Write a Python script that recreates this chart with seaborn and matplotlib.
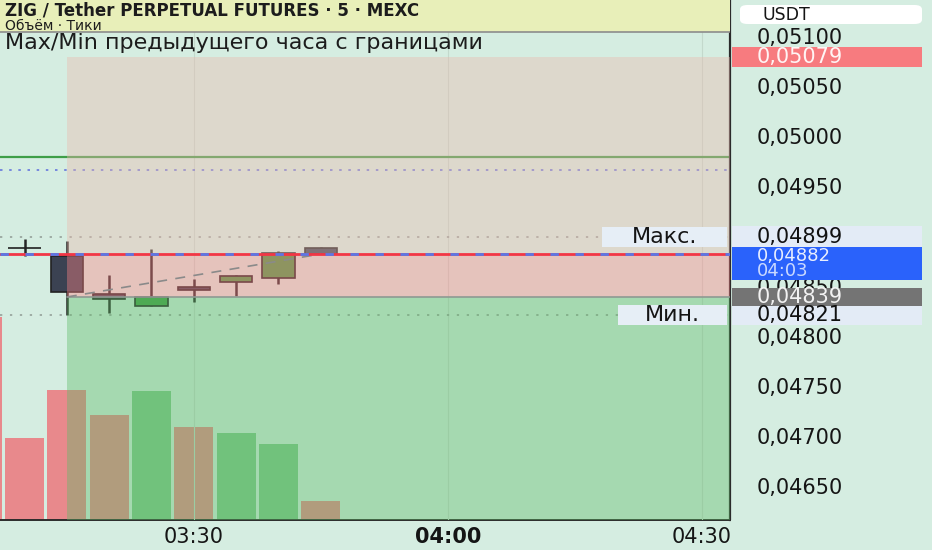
import numpy as np
import pandas as pd
import seaborn as sns
import matplotlib as mpl
mpl.use("Agg")
import matplotlib.pyplot as plt
from matplotlib.patches import Rectangle, FancyBboxPatch
from matplotlib import transforms
from matplotlib.ticker import FuncFormatter


# candles (5 min), index 0 = 03:10
times = ["03:10", "03:15", "03:20", "03:25", "03:30", "03:35", "03:40", "03:45"]
opens = [0.04888, 0.04880, 0.04842, 0.04830, 0.04849, 0.04854, 0.04858, 0.04888]
highs = [0.04897, 0.04895, 0.04861, 0.04887, 0.04857, 0.04861, 0.04885, 0.04889]
lows = [0.04880, 0.04821, 0.04823, 0.04830, 0.04834, 0.04840, 0.04852, 0.04882]
closes = [0.04888, 0.04844, 0.04837, 0.04839, 0.04846, 0.04860, 0.04883, 0.04882]

# volume bars (one more bar on the left edge, 03:05)
vol_idx = [-1, 0, 1, 2, 3, 4, 5, 6, 7]
volumes = [2030, 820, 1300, 1050, 1290, 930, 870, 760, 190]
vol_dir = ["down", "down", "down", "down", "up", "down", "up", "up", "down"]

# levels
prev_max = 0.04899
prev_min = 0.04821
last_price = 0.04882
box_top = 0.05079
box_mid = 0.04839
green_level = 0.04979
blue_level = 0.04966

price_ticks = [0.04650, 0.04700, 0.04750, 0.04800, 0.04850, 0.04950, 0.05000, 0.05050, 0.05100]
time_ticks = [4, 10, 16]
time_labels = ["03:30", "04:00", "04:30"]

bg = "#d5ede1"
sns.set_theme(style="white")
plt.rcParams['font.family'] = ['DejaVu Sans']

fig = plt.figure(figsize=(9.32, 5.5), dpi=100, facecolor=bg)
ax_vol = fig.add_axes([0, 30 / 550, 730 / 932, 520 / 550])
ax_vol.set_facecolor(bg)
ax = ax_vol.twinx()

# volume
vdf = pd.DataFrame({"i": vol_idx, "v": volumes, "d": vol_dir})
sns.barplot(data=vdf, x="i", y="v", hue="d", native_scale=True, width=0.92,
            palette={"up": "#7ec78a", "down": "#e8898c"}, saturation=1,
            errorbar=None, legend=False, dodge=False, linewidth=0, ax=ax_vol)
ax_vol.set_ylim(0, 5200)
ax_vol.set_yticks([])
ax_vol.set_xlabel("")
ax_vol.set_ylabel("")

xmin, xmax = -0.579, 16.67
ymin, ymax = 0.04616, 0.05136
ax.set_ylim(ymin, ymax)
ax_vol.set_xlim(xmin, xmax)

# faint grid
for t in time_ticks:
    ax.axvline(t, color="#c3d9cc", lw=0.8, zorder=0.5)

# horizontal lines under the boxes
ax.axhline(green_level, color="#3e9e48", lw=1.6, zorder=1)
ax.axhline(blue_level, color="#6677dd", lw=1.2, ls=(0, (1.5, 4)), zorder=1)
ax.axhline(prev_max, color="#8f9a94", lw=1.1, ls=(0, (1.5, 5)), zorder=1)
ax.axhline(prev_min, color="#8f9a94", lw=1.1, ls=(0, (1.5, 5)), zorder=1)

# candles
x = np.arange(len(times))
up = [c > o for o, c in zip(opens, closes)]
col = ["#43a047" if u else "#3b4252" for u in up]
ax.vlines(x, lows, highs, colors="#262626", lw=1.8, zorder=2)
bottoms = [min(o, c) for o, c in zip(opens, closes)]
heights = [abs(c - o) for o, c in zip(opens, closes)]
ax.bar(x, heights, bottom=bottoms, width=0.76, color=col, edgecolor="#222222",
       linewidth=1.2, zorder=3)

# previous hour boxes (drawn over candles and volume)
a = 0.4
ax.add_patch(Rectangle((1, last_price), 20, box_top - last_price, color="#ebb9ae", alpha=a, lw=0, zorder=4))
ax.add_patch(Rectangle((1, box_mid), 20, last_price - box_mid, color="#ff8486", alpha=a, lw=0, zorder=4))
ax.add_patch(Rectangle((1, ymin - 0.001), 20, box_mid - ymin + 0.001, color="#5fbb68", alpha=a, lw=0, zorder=4))
ax.plot([1, 20], [box_mid, box_mid], color="#8e9a92", lw=1.2, zorder=5)
ax.plot([1, 7], [box_mid, last_price], color="#8a8a8a", lw=1.2, ls=(0, (6, 5)), zorder=5)

# last price line
ax.axhline(last_price, color="#f23645", lw=2, zorder=6)
ax.axhline(last_price, color="#5a78e6", lw=2, ls=(0, (3, 6)), zorder=7)

# header
ax.add_patch(Rectangle((0, 1 - 32 / 520), 1, 32 / 520, transform=ax.transAxes,
                       color="#e8efb9", lw=0, zorder=8))
ax.plot([0, 1], [1 - 32 / 520, 1 - 32 / 520], transform=ax.transAxes, color="#8c8c8c", lw=1.2, zorder=9)
ax.text(5 / 730, 1 - 10.5 / 520, "ZIG / Tether PERPETUAL FUTURES · 5 · MEXC", transform=ax.transAxes,
        fontsize=12, fontweight="bold", color="#1c1c1c", va="center", ha="left", zorder=10)
ax.text(5 / 730, 1 - 25.5 / 520, "Объём · Тики", transform=ax.transAxes,
        fontsize=10, color="#1c1c1c", va="center", ha="left", zorder=10)
ax.text(5 / 730, 1 - 43 / 520, "Max/Min предыдущего часа с границами", transform=ax.transAxes,
        fontsize=16, color="#1c1c1c", va="center", ha="left", zorder=10)

# Макс. / Мин. tags
tagt = transforms.blended_transform_factory(ax.transAxes, ax.transData)
for lbl, lvl, x0 in [("Макс.", prev_max, 602), ("Мин.", prev_min, 618)]:
    ax.add_patch(Rectangle((x0 / 730, lvl - 0.0001), (727 - x0) / 730, 0.0002,
                           transform=tagt, color="#e6eef6", lw=0, zorder=10))
    ax.text((x0 + 727) / 2 / 730, lvl, lbl, transform=tagt,
            fontsize=16, color="#151515", ha="center", va="center", zorder=11)

# price axis
ax.set_yticks(price_ticks)
ax.yaxis.set_major_formatter(FuncFormatter(lambda v, p: f"{v:.5f}".replace(".", ",")))
ax.tick_params(axis="y", length=0, pad=19, labelsize=15, labelcolor="#151515")

for s in ["left", "top", "bottom"]:
    ax.spines[s].set_visible(False)
ax_vol.spines["left"].set_visible(False)
ax_vol.spines["top"].set_visible(False)
ax_vol.spines["right"].set_visible(False)
ax.spines["right"].set_color("#2b2b2b")
ax.spines["right"].set_linewidth(1.6)
ax_vol.spines["bottom"].set_visible(True)
ax_vol.spines["bottom"].set_color("#2b2b2b")
ax_vol.spines["bottom"].set_linewidth(1.4)

# price badges
bt = transforms.blended_transform_factory(ax.transAxes, ax.transData)
def badge(level, h, face, lines, size=15):
    ax.add_patch(Rectangle((732 / 730, level - h[0]), 190 / 730, h[0] + h[1], transform=bt,
                           color=face, lw=0, zorder=20, clip_on=False))
    for txt, dy, c in lines:
        ax.text(757 / 730, level + dy, txt, transform=bt, fontsize=size, color=c,
                ha="left", va="center", zorder=21, clip_on=False)

badge(box_top, (0.0001, 0.0001), "#f77b7f", [("0,05079", 0, "#fff4f4")])
badge(prev_max, (0.0001, 0.00011), "#e3ebf6", [("0,04899", 0, "#111111")])
badge(last_price, (0.00026, 0.00007), "#2a62fb",
      [("0,04882", -0.00002, "#e8eeff"), ("04:03", -0.00017, "#c9d9ff")], size=13)
badge(box_mid, (0.00009, 0.00009), "#747474", [("0,04839", 0, "#f2f2f2")])
badge(prev_min, (0.0001, 0.00009), "#e3ebf6", [("0,04821", 0, "#111111")])

# USDT box
fig.patches.append(FancyBboxPatch((740 / 932, 1 - 24 / 550), 182 / 932, 19 / 550,
                                  boxstyle="round,pad=0,rounding_size=0.008", transform=fig.transFigure,
                                  facecolor="white", edgecolor="none", zorder=5))
fig.text(762 / 932, 1 - 14.5 / 550, "USDT", fontsize=12.5, color="#151515", va="center", ha="left", zorder=6)

# time axis
ax_vol.set_xticks(time_ticks)
ax_vol.set_xticklabels(time_labels)
ax_vol.tick_params(axis="x", length=0, pad=5, labelsize=15, labelcolor="#151515")
for t in ax_vol.get_xticklabels():
    if t.get_text() == "04:00":
        t.set_fontweight("bold")
fig.patches.append(Rectangle((731 / 932, 0), 201 / 932, 30 / 550, transform=fig.transFigure,
                             facecolor=bg, edgecolor="none", zorder=5))

plt.savefig("out.png", dpi=100, facecolor=bg)
